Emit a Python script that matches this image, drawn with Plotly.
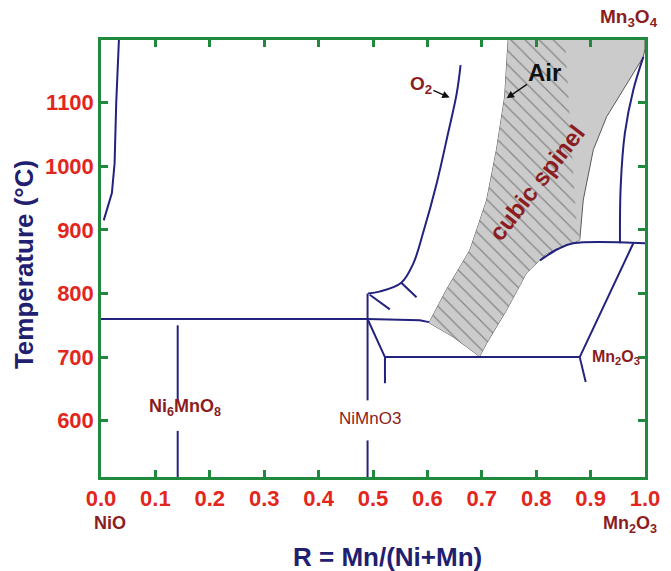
import plotly.graph_objects as go

# ---------------- data ----------------
x_tickvals = [0.0, 0.1, 0.2, 0.3, 0.4, 0.5, 0.6, 0.7, 0.8, 0.9, 1.0]
x_ticktext = ["0.0", "0.1", "0.2", "0.3", "0.4", "0.5", "0.6", "0.7", "0.8", "0.9", "1.0"]
y_tickvals = [600, 700, 800, 900, 1000, 1100]
y_ticktext = ["600", "700", "800", "900", "1000", "1100"]

# NiO-rich boundary
nio_x = [0.005, 0.020, 0.025, 0.028, 0.033]
nio_T = [915, 958, 1005, 1100, 1200]

# 760 °C horizontal
h760_x = [0.0, 0.49, 0.586, 0.603]
h760_T = [760, 760, 758, 755]

# Ni6MnO8 composition line (with gap for label)
ni6_x = [0.141, 0.141, None, 0.141, 0.141]
ni6_T = [750, 632, None, 584, 511]

# NiMnO3 composition line (with gap for label)
nimn_x = [0.490, 0.490, None, 0.490, 0.490]
nimn_T = [800, 632, None, 569, 511]

# O2 boundary curve
o2_x = [0.491, 0.512, 0.552, 0.574, 0.592, 0.617, 0.638, 0.654, 0.661]
o2_T = [800, 803, 817, 847, 895, 973, 1052, 1115, 1159]

# short tie segments
tie1_x = [0.552, 0.580]
tie1_T = [817, 794]
tie2_x = [0.494, 0.531]
tie2_T = [798, 775]

# NiMnO3 decomposition lines
dec_x = [0.491, 0.522, 0.522]
dec_T = [758, 700, 659]

# 700 °C horizontal
h700_x = [0.522, 0.880]
h700_T = [700, 700]

# Mn2O3 lines
mn2_low_x = [0.880, 0.891]
mn2_low_T = [700, 661]
mn2_up_x = [0.880, 0.9785]
mn2_up_T = [700, 879]

# 879 °C boundary
h879_x = [0.807, 0.840, 0.868, 1.0]
h879_T = [852, 870, 879, 879]

# right boundary to Mn3O4
right_x = [0.954, 0.9553, 0.963, 0.9785, 0.997]
right_T = [879, 968, 1052, 1120, 1172]

# cubic spinel region
sp_left_x = [0.7485, 0.742, 0.727, 0.709, 0.678, 0.635, 0.603]
sp_left_T = [1200, 1109, 1026, 947, 868, 806, 754]
sp_bot_x = [0.647, 0.696]
sp_bot_T = [732, 701]
sp_right_x = [0.709, 0.7455, 0.782, 0.819, 0.856, 0.880, 0.8865, 0.905, 0.9295, 0.966, 0.997, 1.0, 1.0]
sp_right_T = [722, 774, 832, 863, 876, 884, 947, 1026, 1078, 1130, 1172, 1185, 1200]
hatch_edge_x = [0.873, 0.853]
hatch_edge_T = [922, 1200]

# ---------------- styles ----------------
NAVY = "#23237e"
GREEN = "#1f8a3d"
RED = "#e3261d"
DRED = "#8b1c22"
TITLE = "#1f2070"
FONT = "Liberation Sans, Arial, sans-serif"

fig = go.Figure()

# grey spinel region (solid)
poly_x = sp_left_x + sp_bot_x + sp_right_x
poly_T = sp_left_T + sp_bot_T + sp_right_T
fig.add_trace(go.Scatter(x=poly_x + [poly_x[0]], y=poly_T + [poly_T[0]], mode="lines",
                         fill="toself", fillcolor="#cbcbcb",
                         line=dict(color="#5a5a5a", width=1), hoverinfo="skip", showlegend=False))

# hatched part
hx = sp_left_x + sp_bot_x + sp_right_x[:6] + hatch_edge_x
hT = sp_left_T + sp_bot_T + sp_right_T[:6] + hatch_edge_T
fig.add_trace(go.Scatter(x=hx + [hx[0]], y=hT + [hT[0]], mode="lines", fill="toself",
                         fillcolor="#cbcbcb",
                         fillpattern=dict(shape="\\", fgcolor="#858585", bgcolor="#cbcbcb",
                                          size=10, solidity=0.12, fillmode="replace"),
                         line=dict(color="rgba(0,0,0,0)", width=0), hoverinfo="skip", showlegend=False))

def add_line(xs, ys, shape="linear"):
    fig.add_trace(go.Scatter(x=xs, y=ys, mode="lines", line=dict(color=NAVY, width=2, shape=shape),
                             hoverinfo="skip", showlegend=False, connectgaps=False))

add_line(nio_x, nio_T)
add_line(h760_x, h760_T)
add_line(ni6_x, ni6_T)
add_line(nimn_x, nimn_T)
add_line(o2_x, o2_T, "spline")
add_line(tie1_x, tie1_T)
add_line(tie2_x, tie2_T)
add_line(dec_x, dec_T)
add_line(h700_x, h700_T)
add_line(mn2_low_x, mn2_low_T)
add_line(mn2_up_x, mn2_up_T)
add_line(h879_x, h879_T, "spline")
add_line(right_x, right_T, "spline")

axis_common = dict(showgrid=False, zeroline=False, showline=True, linecolor=GREEN, linewidth=2.5,
                   mirror="ticks", ticks="inside", ticklen=7, tickwidth=2.5, tickcolor=GREEN,
                   tickfont=dict(family=FONT, size=22, color=RED, weight="bold"))

fig.update_xaxes(range=[0, 1], tickvals=x_tickvals, ticktext=x_ticktext, **axis_common)
fig.update_yaxes(range=[511.5, 1198.6], tickvals=y_tickvals, ticktext=y_ticktext, **axis_common)

ann = []
def label(text, x, y, size, color=DRED, bold=True, xanchor="center", angle=0, xref="x", yref="y"):
    ann.append(dict(text=text, x=x, y=y, xref=xref, yref=yref, showarrow=False, xanchor=xanchor,
                    yanchor="middle", textangle=angle,
                    font=dict(family=FONT, size=size, color=color, weight="bold" if bold else "normal")))

label("Mn<sub>3</sub>O<sub>4</sub>", 0.9706, 1.050, 19, xref="paper", yref="paper")
label("Mn<sub>2</sub>O<sub>3</sub>", 0.919, -0.108, 18, xanchor="left", xref="paper", yref="paper")
label("NiO", 0.0165, -0.106, 18, xref="paper", yref="paper")
label("Mn<sub>2</sub>O<sub>3</sub>", 0.899, 700, 16, xanchor="left")
label("Ni<sub>6</sub>MnO<sub>8</sub>", 0.1536, 621, 18)
label("NiMnO3", 0.494, 603, 17, bold=False)
label("cubic spinel", 0.801, 975, 24, angle=-52)
label("Temperature (°C)", -0.1415, 0.485, 26, color=TITLE, angle=-90, xref="paper", yref="paper")
label("R = Mn/(Ni+Mn)", 0.526, -0.183, 26, color=TITLE, xref="paper", yref="paper")

# arrows
ann.append(dict(text="O<sub>2</sub>", x=0.641, y=1108, ax=0.588, ay=1128, xref="x", yref="y",
                axref="x", ayref="y", showarrow=True, arrowhead=2, arrowsize=1, arrowwidth=1.5,
                arrowcolor="#111111", font=dict(family=FONT, size=19, color=DRED, weight="bold")))
ann.append(dict(text="Air", x=0.7456, y=1107, ax=0.816, ay=1148, xref="x", yref="y",
                axref="x", ayref="y", showarrow=True, arrowhead=2, arrowsize=1, arrowwidth=1.5,
                arrowcolor="#111111", font=dict(family=FONT, size=24, color="#111111", weight="bold")))

fig.update_layout(width=671, height=571, margin=dict(l=101, r=26, t=40, b=94),
                  plot_bgcolor="white", paper_bgcolor="white", annotations=ann, showlegend=False)

fig.write_html("out.html")
